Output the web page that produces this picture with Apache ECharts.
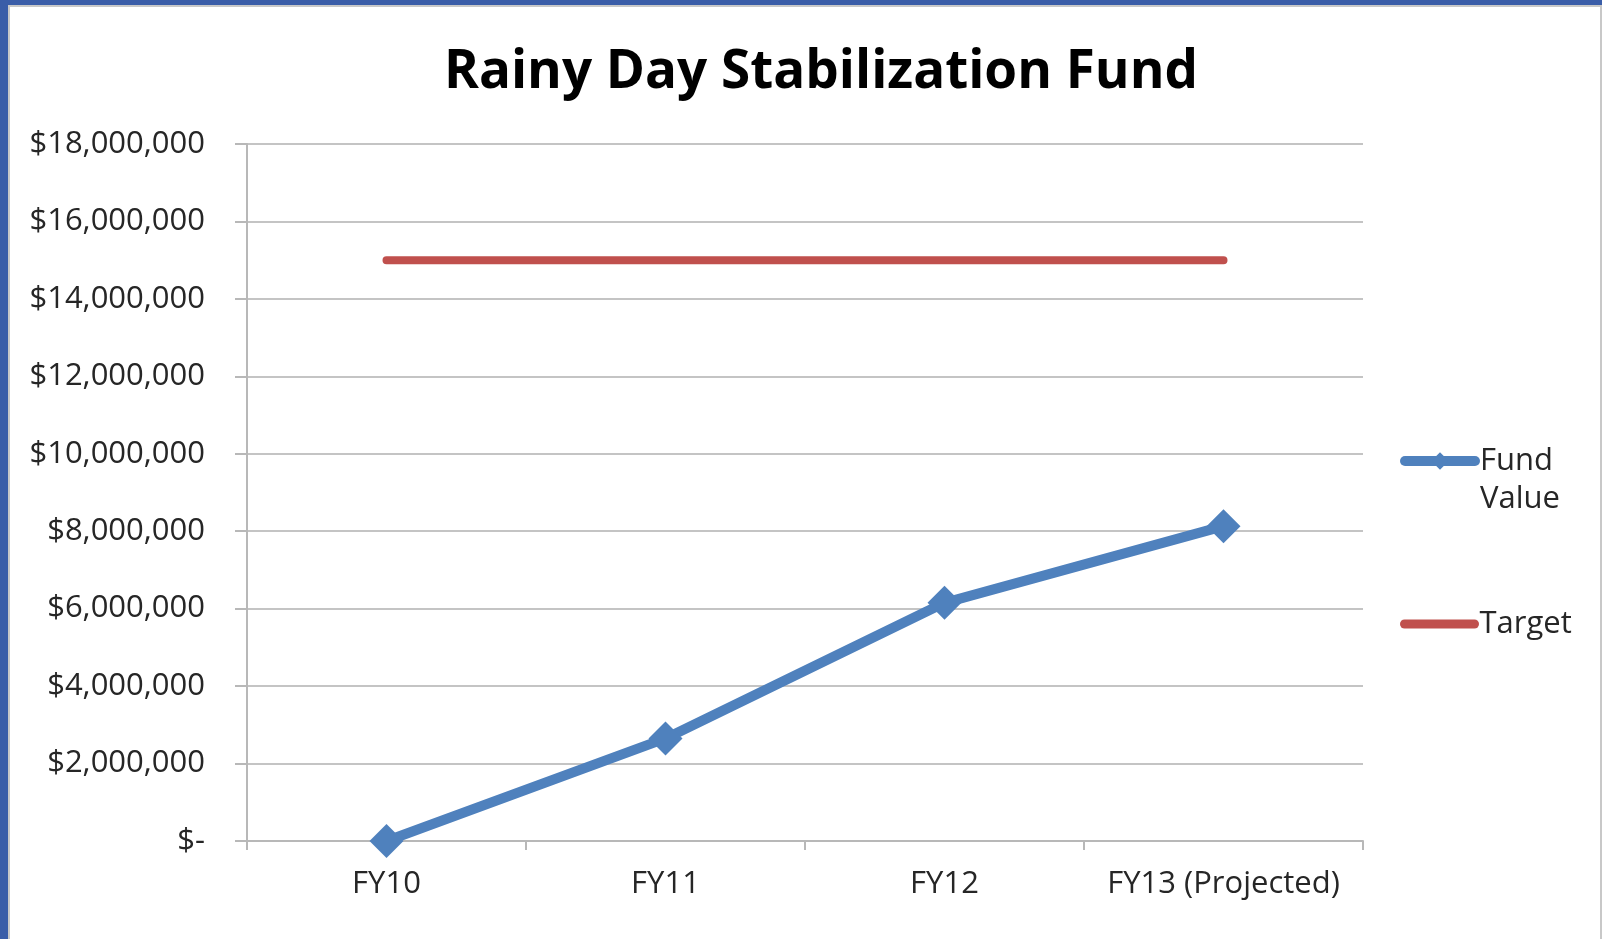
<!DOCTYPE html>
<html>
<head>
<meta charset="utf-8">
<script src="https://cdn.jsdelivr.net/npm/echarts@6/dist/echarts.min.js"></script>
<style>
  html, body { margin: 0; padding: 0; background: #fff; }
  #wrap { position: absolute; left: 0; top: 0; width: 1602px; height: 939px; box-sizing: border-box;
          border-left: 8px solid #3A5DA8; border-top: 5px solid #3A5DA8; }
  #inner { position: absolute; left: 0; top: 0; right: 0; bottom: 0; border-left: 2px solid #c8c8c8; border-top: 2px solid #c8c8c8; border-right: 2px solid #c8c8c8; }
  #chart { position: absolute; left: 0; top: 0; width: 1602px; height: 939px; }
</style>
</head>
<body>
<div id="wrap"><div id="inner"></div></div>
<div id="chart"></div>
<script>
const title = 'Rainy Day Stabilization Fund';
const categories = ['FY10', 'FY11', 'FY12', 'FY13 (Projected)'];
const fundValue = [0, 2650000, 6150000, 8130000];
const target = [15000000, 15000000, 15000000, 15000000];
const seriesNames = ['Fund Value', 'Target'];

const chart = echarts.init(document.getElementById('chart'), null, { renderer: 'canvas' });
const font = '"Open Sans", Lato, sans-serif';
chart.setOption({
  backgroundColor: 'transparent',
  animation: false,
  title: {
    text: title, left: 816, top: 41, textAlign: 'center',
    textStyle: { fontFamily: font, fontWeight: 'bold', fontSize: 53, color: '#000' }
  },
  legend: [
    {
      data: [seriesNames[0]], left: 1400, top: 404, padding: 0, itemWidth: 70, itemHeight: 22,
      formatter: () => '\nFund\nValue',
      lineStyle: { width: 10, cap: 'round' },
      textStyle: { fontFamily: font, fontSize: 31, color: '#262626', lineHeight: 38 }
    },
    {
      data: [seriesNames[1]], left: 1400, top: 605, padding: 0, itemWidth: 70, itemHeight: 14,
      lineStyle: { width: 9, cap: 'round' },
      itemStyle: { opacity: 0 },
      textStyle: { fontFamily: font, fontSize: 31, color: '#262626', lineHeight: 38 }
    }
  ],
  grid: { left: 247, right: 239, top: 144, bottom: 98, containLabel: false },
  xAxis: {
    type: 'category', data: categories, boundaryGap: true,
    axisLine: { lineStyle: { color: '#b8b8b8', width: 2 } },
    axisTick: { show: true, interval: 0, length: 9, alignWithLabel: false, lineStyle: { color: '#b8b8b8', width: 2 } },
    axisLabel: { interval: 0, fontFamily: font, fontSize: 31, color: '#262626', margin: 28 }
  },
  yAxis: {
    type: 'value', min: 0, max: 18000000, interval: 2000000,
    axisLine: { show: true, lineStyle: { color: '#b8b8b8', width: 2 } },
    axisTick: { show: true, length: 12, lineStyle: { color: '#b8b8b8', width: 2 } },
    splitLine: { lineStyle: { color: '#c4c4c4', width: 2 } },
    axisLabel: {
      fontFamily: font, fontSize: 31, color: '#262626', margin: 42,
      formatter: v => v === 0 ? '$-' : '$' + v.toLocaleString('en-US')
    }
  },
  series: [
    {
      name: seriesNames[0], type: 'line', data: fundValue,
      symbol: 'diamond', symbolSize: 34, z: 3,
      lineStyle: { color: '#4F81BD', width: 10, cap: 'round' },
      itemStyle: { color: '#4F81BD' }
    },
    {
      name: seriesNames[1], type: 'line', data: target,
      symbol: 'none', showSymbol: false, z: 2,
      lineStyle: { color: '#C0504D', width: 8, cap: 'round' },
      itemStyle: { color: '#C0504D' }
    }
  ]
});
</script>
</body>
</html>
